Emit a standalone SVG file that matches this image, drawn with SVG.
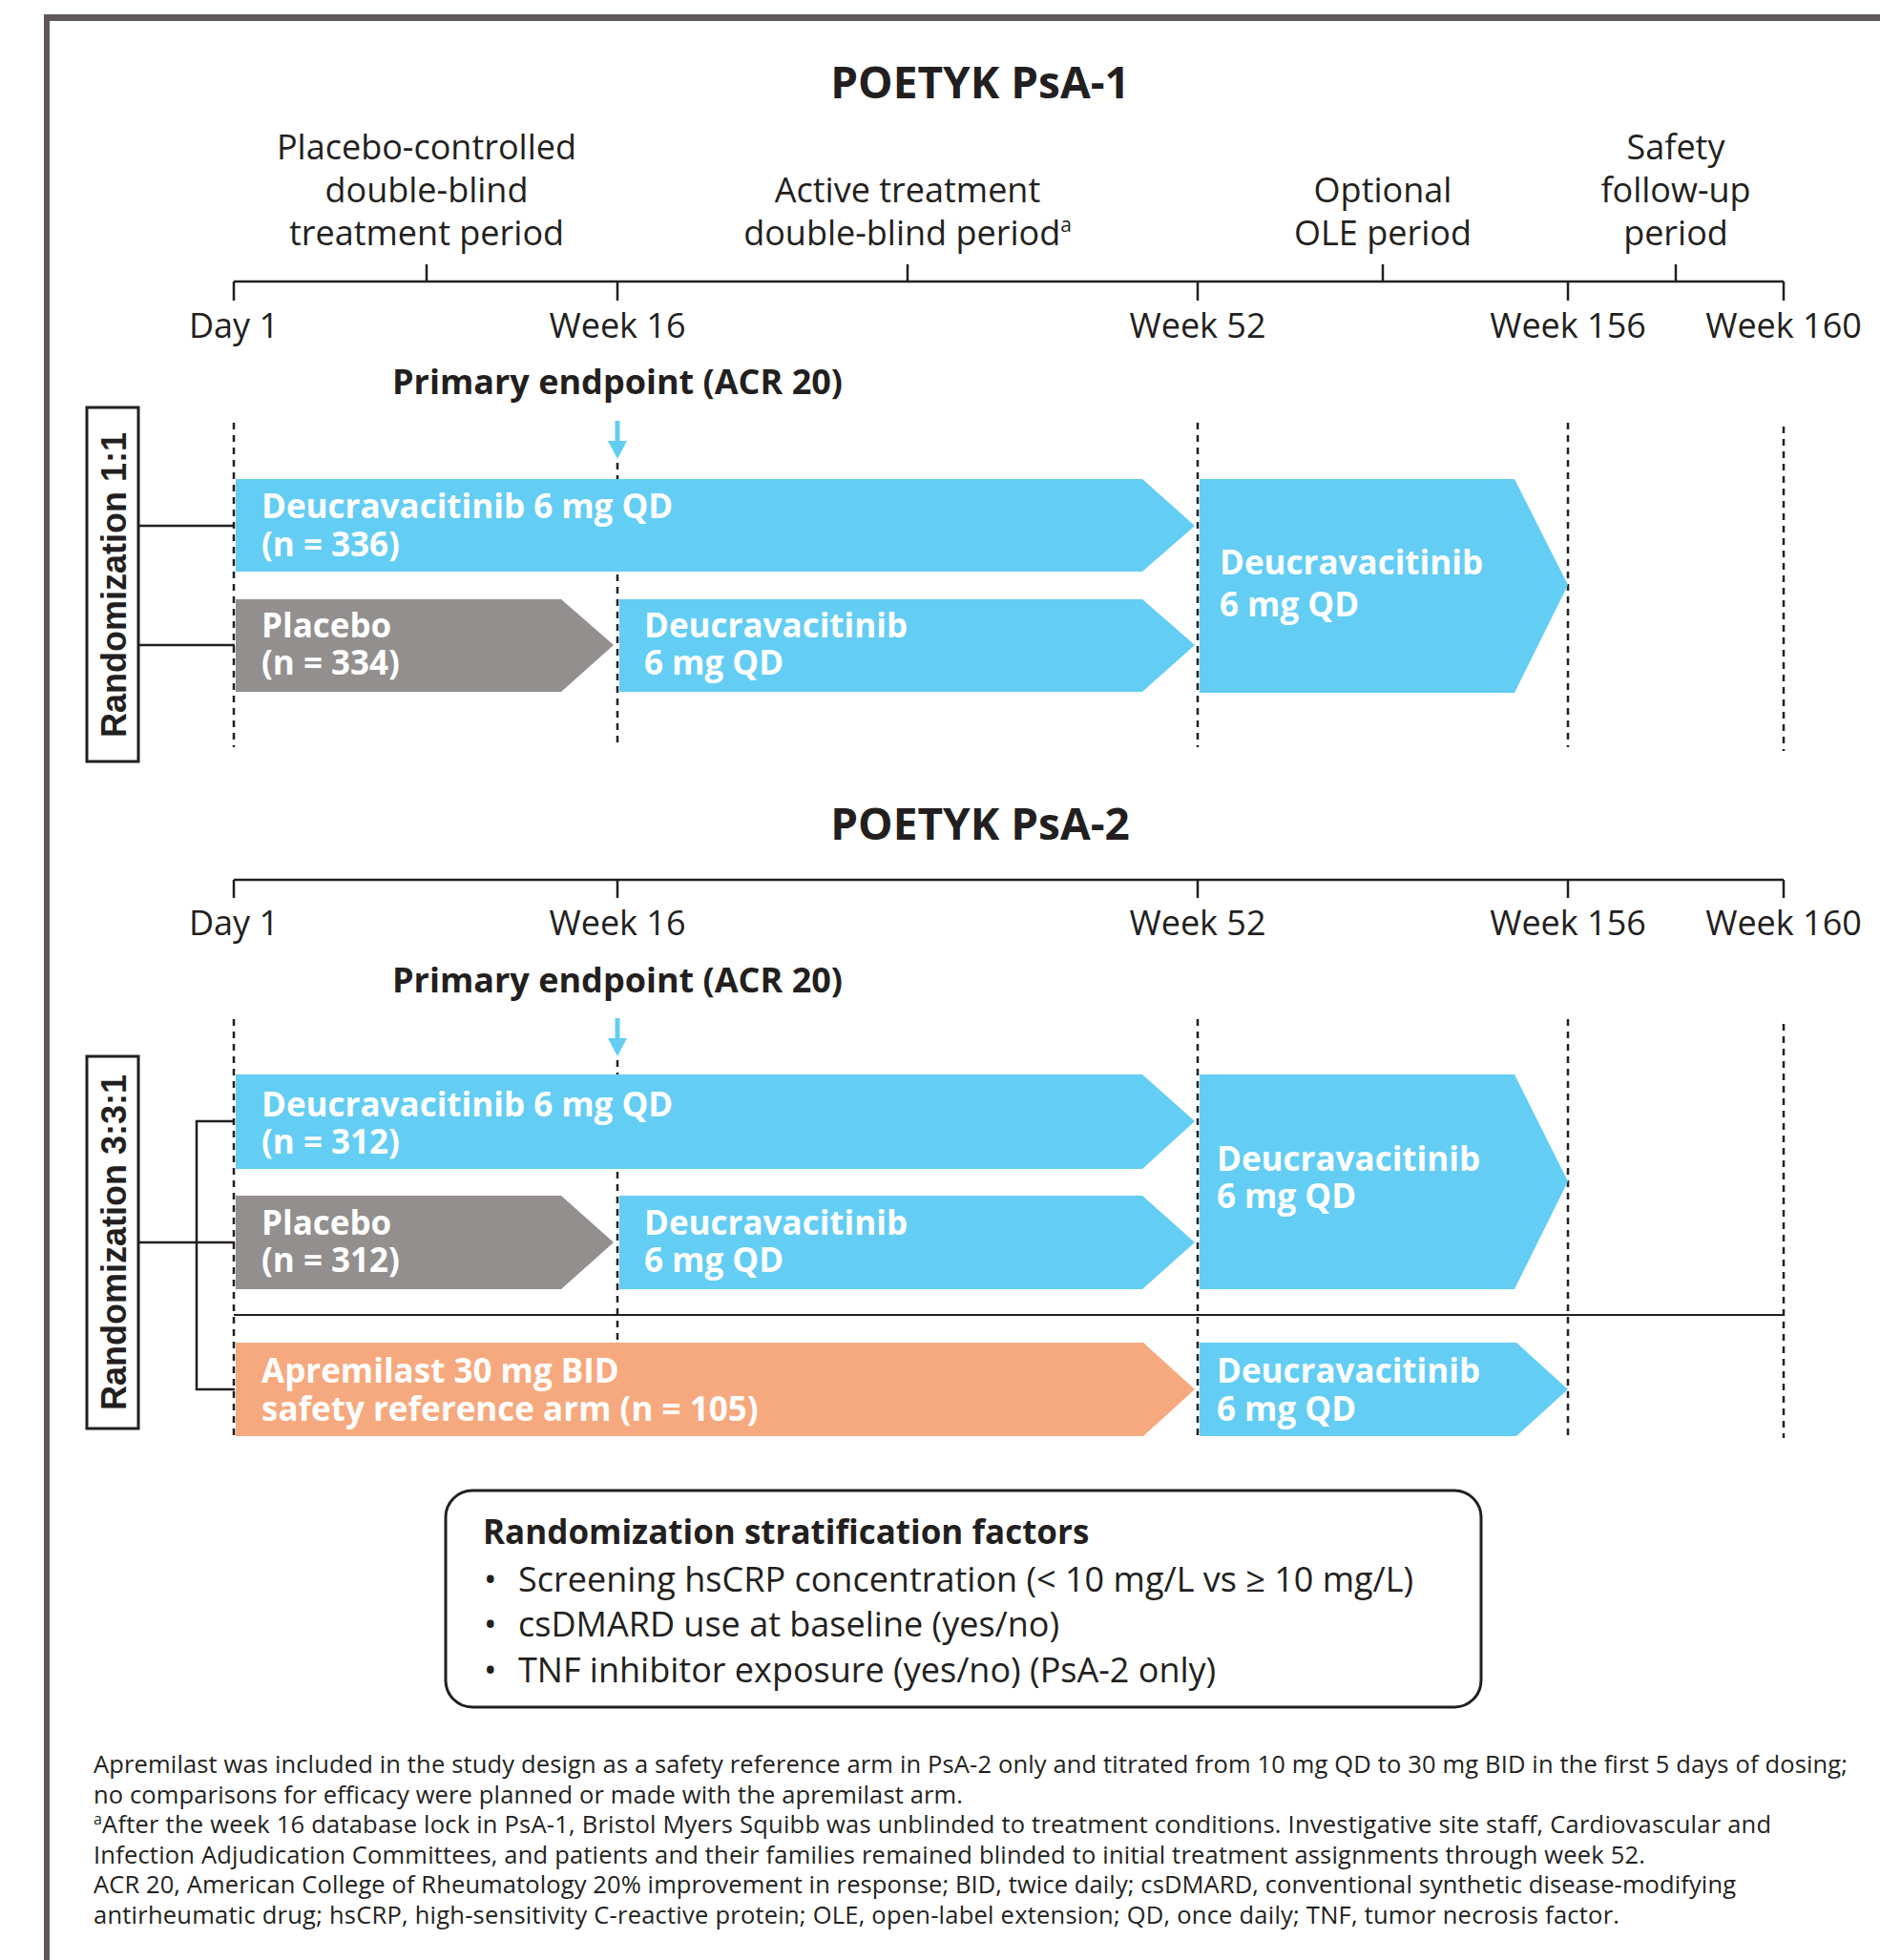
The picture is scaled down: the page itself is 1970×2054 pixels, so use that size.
<svg xmlns="http://www.w3.org/2000/svg" width="1970" height="2054" viewBox="0 0 1970 2054">
<style>
.t{font-family:"Open Sans","Liberation Sans",sans-serif;fill:#231f20}
.reg{font-size:36px}
.title{font-size:46px;font-weight:bold}
.pe{font-size:36px;font-weight:bold}
.arm{font-family:"Open Sans","Liberation Sans",sans-serif;font-size:35px;font-weight:bold;fill:#ffffff}
.rnd{font-family:"Liberation Sans",Arial,sans-serif;font-size:36px;font-weight:bold;fill:#231f20}
.fn{font-size:25.5px}
.axis{stroke:#231f20;stroke-width:2.5;fill:none}
.dash{stroke:#231f20;stroke-width:2.5;stroke-dasharray:7 6;fill:none}
.conn{stroke:#231f20;stroke-width:2.5;fill:none}
.blue{fill:#63cdf4}
.gray{fill:#928f8e}
.orange{fill:#f6a97e}
.box{fill:#ffffff;stroke:#231f20;stroke-width:3}
</style>
<defs>
<g id="arrowdown">
<rect x="-2.5" y="0" width="5" height="24" fill="#63cdf4"/>
<polygon points="-10,21 10,21 0,40" fill="#63cdf4"/>
</g>
</defs>
<rect x="0" y="0" width="1970" height="2054" fill="#ffffff"/>
<g id="frame">
<rect x="46" y="15" width="1924" height="7" fill="#5f5759"/>
<rect x="46" y="15" width="6" height="2039" fill="#5f5759"/>
</g>

<!-- ===== PsA-1 ===== -->
<g id="psa1-title"><text class="t title" x="1027" y="103" text-anchor="middle">POETYK PsA-1</text></g>
<g id="psa1-periods">
<text class="t reg" text-anchor="middle"><tspan x="447" y="167">Placebo-controlled</tspan><tspan x="447" y="212">double-blind</tspan><tspan x="447" y="257">treatment period</tspan></text>
<text class="t reg" text-anchor="middle"><tspan x="951" y="212">Active treatment</tspan><tspan x="951" y="257">double-blind period<tspan font-size="21" dy="-14">a</tspan></tspan></text>
<text class="t reg" text-anchor="middle"><tspan x="1449" y="212">Optional</tspan><tspan x="1449" y="257">OLE period</tspan></text>
<text class="t reg" text-anchor="middle"><tspan x="1756" y="167">Safety</tspan><tspan x="1756" y="212">follow-up</tspan><tspan x="1756" y="257">period</tspan></text>
</g>
<g id="psa1-axis">
<path class="axis" d="M245,295 H1869 M245,295 V315 M647,295 V315 M1255,295 V315 M1643,295 V315 M1869,295 V315 M447,277 V295 M951,277 V295 M1449,277 V295 M1756,277 V295"/>
<text class="t reg" x="245" y="354" text-anchor="middle">Day 1</text>
<text class="t reg" x="647" y="354" text-anchor="middle">Week 16</text>
<text class="t reg" x="1255" y="354" text-anchor="middle">Week 52</text>
<text class="t reg" x="1643" y="354" text-anchor="middle">Week 156</text>
<text class="t reg" x="1869" y="354" text-anchor="middle">Week 160</text>
<text class="t pe" x="647" y="413" text-anchor="middle">Primary endpoint (ACR 20)</text>
</g>
<g id="psa1-dashes">
<path class="dash" d="M245,443 V783 M647,485 V783 M1255,443 V783 M1643,443 V783 M1869,447 V787"/>
</g>
<g id="psa1-arrow"><use href="#arrowdown" x="647" y="441"/></g>
<g id="psa1-rand">
<rect class="box" x="91" y="427" width="54" height="371"/>
<text class="rnd" transform="translate(132,613) rotate(-90)" text-anchor="middle">Randomization 1:1</text>
</g>
<g id="psa1-arm-deuc">
<polygon class="blue" points="247,502 1197,502 1252,551 1197,599 247,599"/>
<text class="arm"><tspan x="274" y="543">Deucravacitinib 6 mg QD</tspan><tspan x="274" y="583">(n = 336)</tspan></text>
</g>
<g id="psa1-arm-pbo">
<polygon class="gray" points="247,628 588,628 643,676 588,725 247,725"/>
<text class="arm"><tspan x="274" y="668">Placebo</tspan><tspan x="274" y="707">(n = 334)</tspan></text>
</g>
<g id="psa1-arm-pbo-deuc">
<polygon class="blue" points="649,628 1197,628 1252,676 1197,725 649,725"/>
<text class="arm"><tspan x="675" y="668">Deucravacitinib</tspan><tspan x="675" y="707">6 mg QD</tspan></text>
</g>
<g id="psa1-arm-ole">
<polygon class="blue" points="1257,502 1587,502 1643,613 1587,726 1257,726"/>
<text class="arm"><tspan x="1278" y="602">Deucravacitinib</tspan><tspan x="1278" y="646">6 mg QD</tspan></text>
</g>

<!-- ===== PsA-2 ===== -->
<g id="psa2-title"><text class="t title" x="1027" y="880" text-anchor="middle">POETYK PsA-2</text></g>
<g id="psa2-axis">
<path class="axis" d="M245,922 H1869 M245,922 V941 M647,922 V941 M1255,922 V941 M1643,922 V941 M1869,922 V941"/>
<text class="t reg" x="245" y="980" text-anchor="middle">Day 1</text>
<text class="t reg" x="647" y="980" text-anchor="middle">Week 16</text>
<text class="t reg" x="1255" y="980" text-anchor="middle">Week 52</text>
<text class="t reg" x="1643" y="980" text-anchor="middle">Week 156</text>
<text class="t reg" x="1869" y="980" text-anchor="middle">Week 160</text>
<text class="t pe" x="647" y="1040" text-anchor="middle">Primary endpoint (ACR 20)</text>
</g>
<g id="psa2-dashes">
<path class="dash" d="M245,1068 V1505 M647,1111 V1505 M1255,1068 V1505 M1643,1068 V1505 M1869,1073 V1507"/>
<path d="M245,1378 H1869" stroke="#231f20" stroke-width="2" fill="none"/>
</g>
<g id="psa2-arrow"><use href="#arrowdown" x="647" y="1067"/></g>
<g id="psa2-rand">
<rect class="box" x="91" y="1107" width="54" height="390"/>
<text class="rnd" transform="translate(132,1302) rotate(-90)" text-anchor="middle">Randomization 3:3:1</text>
</g>
<g id="psa2-arm-deuc">
<polygon class="blue" points="247,1126 1197,1126 1252,1175 1197,1225 247,1225"/>
<text class="arm"><tspan x="274" y="1170">Deucravacitinib 6 mg QD</tspan><tspan x="274" y="1209">(n = 312)</tspan></text>
</g>
<g id="psa2-arm-pbo">
<polygon class="gray" points="247,1253 588,1253 643,1302 588,1351 247,1351"/>
<text class="arm"><tspan x="274" y="1294">Placebo</tspan><tspan x="274" y="1333">(n = 312)</tspan></text>
</g>
<g id="psa2-arm-pbo-deuc">
<polygon class="blue" points="649,1253 1197,1253 1252,1302 1197,1351 649,1351"/>
<text class="arm"><tspan x="675" y="1294">Deucravacitinib</tspan><tspan x="675" y="1333">6 mg QD</tspan></text>
</g>
<g id="psa2-arm-ole">
<polygon class="blue" points="1257,1126 1587,1126 1643,1238 1587,1351 1257,1351"/>
<text class="arm"><tspan x="1275" y="1227">Deucravacitinib</tspan><tspan x="1275" y="1266">6 mg QD</tspan></text>
</g>
<g id="psa2-arm-apr">
<polygon class="orange" points="247,1407 1198,1407 1252,1456 1198,1505 247,1505"/>
<text class="arm"><tspan x="274" y="1449">Apremilast 30 mg BID</tspan><tspan x="274" y="1489">safety reference arm (n = 105)</tspan></text>
</g>
<g id="psa2-arm-apr-deuc">
<polygon class="blue" points="1257,1407 1589,1407 1643,1456 1589,1505 1257,1505"/>
<text class="arm"><tspan x="1275" y="1449">Deucravacitinib</tspan><tspan x="1275" y="1489">6 mg QD</tspan></text>
</g>

<g id="connectors">
<path class="conn" d="M145,551 H246 M145,676 H246"/>
<path class="conn" d="M145,1302 H246 M246,1175 H206 V1456 H246"/>
</g>

<g id="strat-box">
<rect x="467" y="1562" width="1085" height="227" rx="28" ry="28" fill="#ffffff" stroke="#231f20" stroke-width="3"/>
<text class="t" font-size="35" font-weight="bold" x="506" y="1618">Randomization stratification factors</text>
<text class="t reg"><tspan x="507" y="1668">•</tspan><tspan x="543" y="1668">Screening hsCRP concentration (&lt; 10 mg/L vs ≥ 10 mg/L)</tspan></text>
<text class="t reg"><tspan x="507" y="1715">•</tspan><tspan x="543" y="1715">csDMARD use at baseline (yes/no)</tspan></text>
<text class="t reg"><tspan x="507" y="1763">•</tspan><tspan x="543" y="1763">TNF inhibitor exposure (yes/no) (PsA-2 only)</tspan></text>
</g>

<g id="footnotes">
<text class="t fn" x="98" y="1858" textLength="1838" lengthAdjust="spacing">Apremilast was included in the study design as a safety reference arm in PsA-2 only and titrated from 10 mg QD to 30 mg BID in the first 5 days of dosing;</text>
<text class="t fn" x="98" y="1890" textLength="911" lengthAdjust="spacing">no comparisons for efficacy were planned or made with the apremilast arm.</text>
<text class="t fn" x="98" y="1921" textLength="1758" lengthAdjust="spacing"><tspan font-size="16" dy="-9">a</tspan><tspan dy="9">After the week 16 database lock in PsA-1, Bristol Myers Squibb was unblinded to treatment conditions. Investigative site staff, Cardiovascular and</tspan></text>
<text class="t fn" x="98" y="1953" textLength="1626" lengthAdjust="spacing">Infection Adjudication Committees, and patients and their families remained blinded to initial treatment assignments through week 52.</text>
<text class="t fn" x="98" y="1984" textLength="1721" lengthAdjust="spacing">ACR 20, American College of Rheumatology 20% improvement in response; BID, twice daily; csDMARD, conventional synthetic disease-modifying</text>
<text class="t fn" x="98" y="2016" textLength="1599" lengthAdjust="spacing">antirheumatic drug; hsCRP, high-sensitivity C-reactive protein; OLE, open-label extension; QD, once daily; TNF, tumor necrosis factor.</text>
</g>
</svg>
